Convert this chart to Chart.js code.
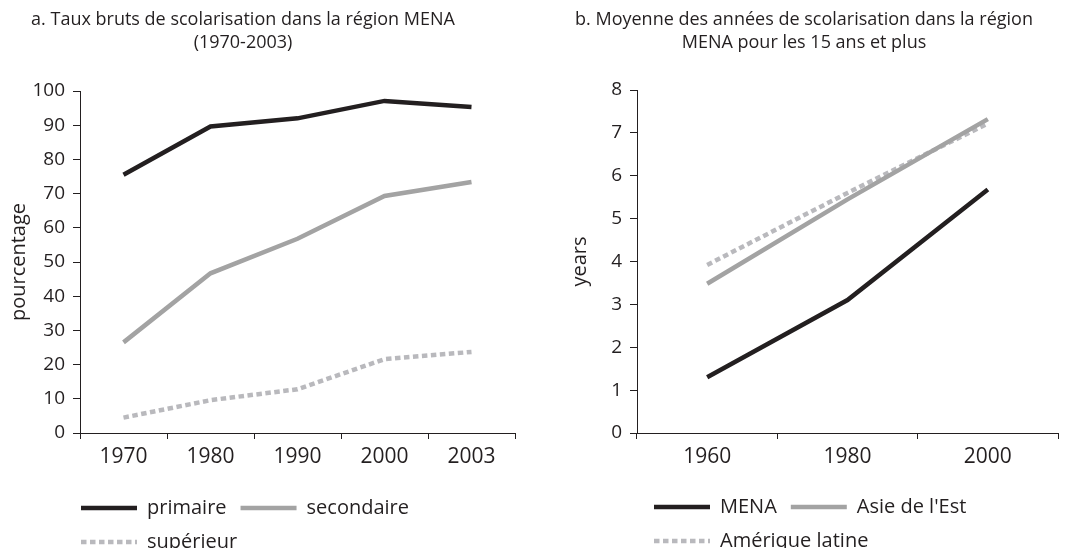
<!DOCTYPE html>
<html><head><meta charset="utf-8">
<script src="https://cdn.jsdelivr.net/npm/chart.js@4"></script>
<style>
html,body{margin:0;padding:0;background:#fff;}
#wrap{position:relative;width:1069px;height:548px;overflow:hidden;background:#fff;}
.box{position:absolute;top:0;height:548px;}
#b1{left:0;width:540px;}
#b2{left:540px;width:529px;}
</style></head><body>
<div id="wrap"><div class="box" id="b1"><canvas id="c1"></canvas></div><div class="box" id="b2"><canvas id="c2"></canvas></div></div>
<script>
// ---- data ----
const titleA = ["a. Taux bruts de scolarisation dans la région MENA", "(1970-2003)"];
const titleB = ["b. Moyenne des années de scolarisation dans la région", "MENA pour les 15 ans et plus"];
const yTitleA = "pourcentage";
const yTitleB = "years";
const yearsA = ["1970", "1980", "1990", "2000", "2003"];
const primaire = [75.5, 89.6, 92.0, 97.1, 95.3];
const secondaire = [26.5, 46.7, 56.8, 69.3, 73.4];
const superieur = [4.5, 9.6, 12.8, 21.6, 23.7];
const yTicksA = [0, 10, 20, 30, 40, 50, 60, 70, 80, 90, 100];
const yearsB = ["1960", "1980", "2000"];
const mena = [1.3, 3.1, 5.68];
const asieEst = [3.48, 5.45, 7.32];
const ameriqueLatine = [3.92, 5.6, 7.22];
const yTicksB = [0, 1, 2, 3, 4, 5, 6, 7, 8];

// ---- styles ----
const INK = '#231f20';
const GREY = '#a3a3a3';
const DOT = '#b9b9bd';
const FONT = "'Open Sans', 'Noto Sans', sans-serif";

function titlePlugin(lines, cx, y0, lh) {
  return {
    id: 'panelTitle',
    afterDraw(chart) {
      const ctx = chart.ctx;
      ctx.save();
      ctx.font = "18px " + FONT;
      ctx.fillStyle = INK;
      ctx.textAlign = 'center';
      ctx.textBaseline = 'middle';
      lines.forEach((t, i) => ctx.fillText(t, cx, y0 + i * lh));
      ctx.restore();
    }
  };
}
function legendShift(left, top) {
  return {
    id: 'legendShift',
    afterLayout(chart) {
      const lg = chart.legend;
      if (!lg) return;
      const h = lg.bottom - lg.top;
      const pad = lg.options.labels.padding;
      lg.left = left - pad;
      lg.top = top;
      lg.bottom = top + h;
    }
  };
}

function makeChart(id, cfg) {
  const ds = cfg.series.map(s => ({
    label: s.label, data: s.data, borderColor: s.color, backgroundColor: s.color,
    borderWidth: 4.5, borderDash: s.dash || [], pointRadius: 0, tension: 0, fill: false
  }));
  return new Chart(document.getElementById(id), {
    type: 'line',
    data: { labels: cfg.labels, datasets: ds },
    plugins: [titlePlugin(cfg.title, cfg.titleX, 20, 23), legendShift(cfg.legendLeft, cfg.legendTop)],
    options: {
      responsive: true, maintainAspectRatio: false, animation: false,
      layout: { padding: { top: cfg.top, right: cfg.right, left: 0, bottom: cfg.bottom } },
      plugins: {
        tooltip: { enabled: false },
        legend: {
          position: 'bottom', align: 'start',
          labels: {
            usePointStyle: true, pointStyle: 'line', pointStyleWidth: 56,
            padding: cfg.legendPad, color: INK, font: { family: FONT, size: 20 },
            generateLabels: chart => chart.data.datasets.map((d, i) => ({
              text: d.label, datasetIndex: i, fillStyle: d.borderColor, strokeStyle: d.borderColor,
              lineWidth: d.borderWidth, lineDash: d.borderDash, lineCap: 'butt', pointStyle: 'line',
              fontColor: INK, hidden: false
            }))
          }
        }
      },
      scales: {
        x: {
          offset: true,
          grid: { offset: true, drawOnChartArea: false, tickLength: 6, color: INK, lineWidth: 1 },
          border: { color: INK, width: 1 },
          ticks: { color: INK, font: { family: FONT, size: 21 }, padding: 5, maxRotation: 0 },
          afterFit: s => { s.height = cfg.xH; }
        },
        y: {
          min: cfg.yTicks[0], max: cfg.yTicks[cfg.yTicks.length - 1],
          grid: { drawOnChartArea: false, tickLength: 7, color: INK, lineWidth: 1 },
          border: { color: INK, width: 1 },
          ticks: { stepSize: cfg.yTicks[1] - cfg.yTicks[0], color: INK, font: { family: FONT, size: 19 }, padding: 8 },
          title: { display: true, text: cfg.yTitle, color: INK, font: { family: FONT, size: 20 }, padding: { top: cfg.yTitlePad, bottom: 0 } },
          afterFit: s => { s.width = cfg.yW; }
        }
      }
    }
  });
}

makeChart('c1', {
  title: titleA, titleX: 243, labels: yearsA, yTicks: yTicksA, yTitle: yTitleA, yTitlePad: 7,
  series: [
    { label: 'primaire', data: primaire, color: INK },
    { label: 'secondaire', data: secondaire, color: GREY },
    { label: 'supérieur', data: superieur, color: DOT, dash: [5.5, 3.5] }
  ],
  top: 91, right: 25, bottom: 0, xH: 37, yW: 80, legendPad: 14, legendLeft: 81, legendTop: 484
});
makeChart('c2', {
  title: titleB, titleX: 264, labels: yearsB, yTicks: yTicksB, yTitle: yTitleB, yTitlePad: 28,
  series: [
    { label: 'MENA', data: mena, color: INK },
    { label: "Asie de l'Est", data: asieEst, color: GREY },
    { label: 'Amérique latine', data: ameriqueLatine, color: DOT, dash: [5.5, 3.5] }
  ],
  top: 90, right: 11, bottom: 0, xH: 37, yW: 97, legendPad: 14, legendLeft: 114, legendTop: 483
});
</script>
</body></html>
